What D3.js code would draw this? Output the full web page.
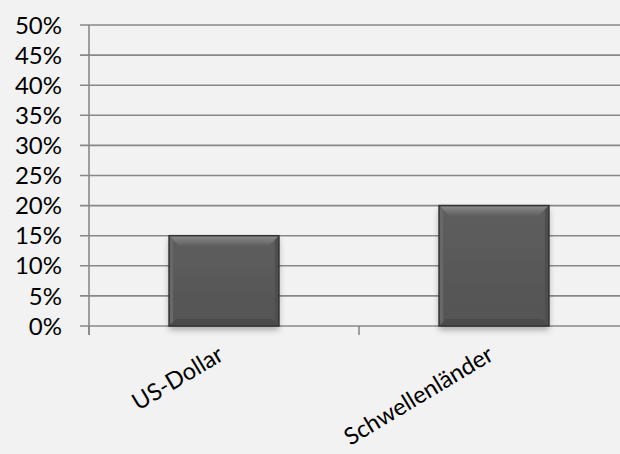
<!DOCTYPE html>
<html><head><meta charset="utf-8">
<script src="https://cdn.jsdelivr.net/npm/d3@7/dist/d3.min.js"></script>
<style>html,body{margin:0;padding:0;background:#f2f2f2;}svg{display:block;}</style>
</head><body>
<script>
const categories = ["US-Dollar", "Schwellenländer"];
const values = [15, 20];
const yTicks = [0, 5, 10, 15, 20, 25, 30, 35, 40, 45, 50];

const W = 620, H = 454;
const svg = d3.select("body").append("svg").attr("width", W).attr("height", H);
svg.append("rect").attr("width", W).attr("height", H).attr("fill", "#f2f2f2");

const x0 = 89, x1 = 629, yTop = 25, yBot = 326;
const pIn = 0.593;
const x = d3.scaleBand().domain(categories).range([x0, x1]).paddingInner(pIn).paddingOuter(pIn / 2);
const y = d3.scaleLinear().domain([0, 50]).range([yBot, yTop]);

const defs = svg.append("defs");
const f = defs.append("filter").attr("id", "sh").attr("x", "-20%").attr("y", "-20%").attr("width", "140%").attr("height", "140%");
f.append("feDropShadow").attr("dx", 0).attr("dy", 4).attr("stdDeviation", 3).attr("flood-color", "#000").attr("flood-opacity", 0.3);
const gTop = defs.append("linearGradient").attr("id", "gtop").attr("x1", 0).attr("y1", 0).attr("x2", 0).attr("y2", 1);
gTop.append("stop").attr("offset", 0).attr("stop-color", "#8c8c8c");
gTop.append("stop").attr("offset", 1).attr("stop-color", "#5c5c5c");
const gBody = defs.append("linearGradient").attr("id", "gbody").attr("x1", 0).attr("y1", 0).attr("x2", 0).attr("y2", 1);
gBody.append("stop").attr("offset", 0).attr("stop-color", "#5e5e5e");
gBody.append("stop").attr("offset", 1).attr("stop-color", "#545454");

// gridlines
svg.append("g").selectAll("line").data(yTicks).join("line")
  .attr("x1", x0 - 9).attr("x2", W)
  .attr("y1", d => y(d)).attr("y2", d => y(d))
  .attr("stroke", "#888").attr("stroke-width", 1.6);

// y axis line
svg.append("line").attr("x1", x0).attr("x2", x0).attr("y1", yTop).attr("y2", yBot + 9)
  .attr("stroke", "#888").attr("stroke-width", 1.6);
// category ticks (band boundaries)
svg.append("g").selectAll("line").data(d3.range(categories.length + 1))
  .join("line")
  .attr("x1", i => x0 + i * x.step())
  .attr("x2", i => x0 + i * x.step())
  .attr("y1", yBot).attr("y2", yBot + 9)
  .attr("stroke", "#888").attr("stroke-width", 1.6);

// y labels
svg.append("g").selectAll("text").data(yTicks).join("text")
  .attr("x", 62).attr("y", d => y(d)).attr("dy", "0.36em")
  .attr("text-anchor", "end")
  .attr("font-family", "Lato, sans-serif").attr("font-size", 24).attr("fill", "#000")
  .text(d => d + "%");

// bars
const bars = svg.append("g").selectAll("g").data(categories).join("g");
bars.each(function (c, i) {
  const g = d3.select(this);
  const bx = x(c), bw = x.bandwidth(), by = y(values[i]), bh = y(0) - y(values[i]);
  const b = 11, bb = 7, s = 4;
  g.append("rect").attr("x", bx).attr("y", by).attr("width", bw).attr("height", bh)
    .attr("fill", "url(#gbody)").attr("filter", "url(#sh)");
  g.append("path").attr("d", `M${bx},${by}L${bx + bw},${by}L${bx + bw - b},${by + b}L${bx + b},${by + b}Z`)
    .attr("fill", "url(#gtop)");
  g.append("path").attr("d", `M${bx},${by}L${bx + s},${by + s}L${bx + s},${by + bh - s}L${bx},${by + bh}Z`)
    .attr("fill", "#686868");
  g.append("path").attr("d", `M${bx + bw},${by}L${bx + bw - s},${by + s}L${bx + bw - s},${by + bh - s}L${bx + bw},${by + bh}Z`)
    .attr("fill", "#4e4e4e");
  g.append("path").attr("d", `M${bx},${by + bh}L${bx + bb},${by + bh - bb}L${bx + bw - bb},${by + bh - bb}L${bx + bw},${by + bh}Z`)
    .attr("fill", "#4a4a4a");
  g.append("rect").attr("x", bx).attr("y", by).attr("width", bw).attr("height", bh)
    .attr("fill", "none").attr("stroke", "#333").attr("stroke-width", 1.5);
});

// x labels
svg.append("g").selectAll("text").data(categories).join("text")
  .attr("transform", c => `translate(${x(c) + x.bandwidth() / 2 + 1},${yBot + 33}) rotate(-31)`)
  .attr("text-anchor", "end")
  .attr("font-family", "Lato, sans-serif").attr("font-size", 23.5).attr("fill", "#000")
  .text(c => c);
</script>
</body></html>
